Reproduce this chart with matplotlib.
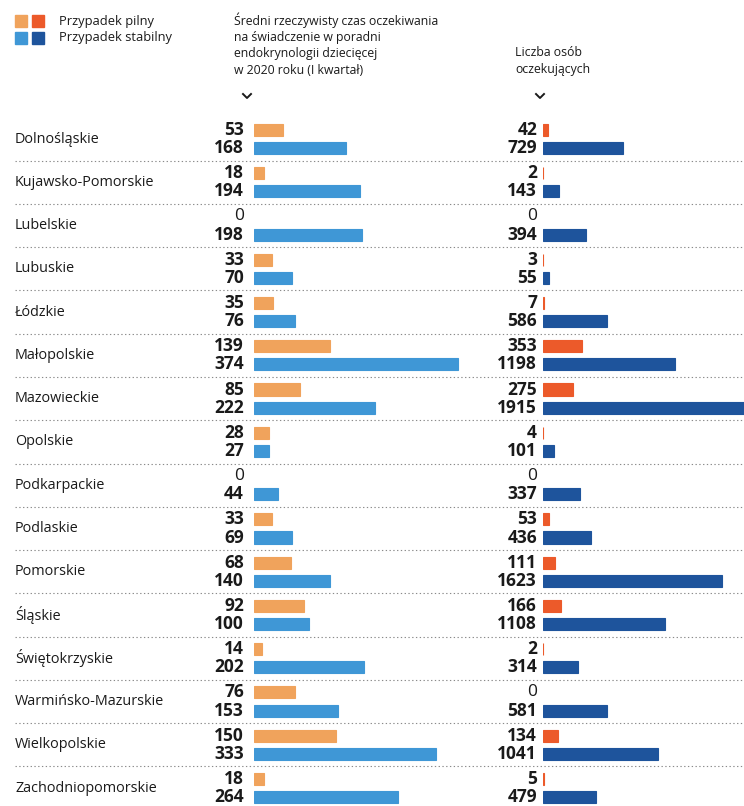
import numpy as np
import matplotlib
matplotlib.use("Agg")
import matplotlib.pyplot as plt

regions = ["Dolnośląskie", "Kujawsko-Pomorskie", "Lubelskie", "Lubuskie", "Łódzkie",
           "Małopolskie", "Mazowieckie", "Opolskie", "Podkarpackie", "Podlaskie",
           "Pomorskie", "Śląskie", "Świętokrzyskie", "Warmińsko-Mazurskie",
           "Wielkopolskie", "Zachodniopomorskie"]
wait_pilny = [53, 18, 0, 33, 35, 139, 85, 28, 0, 33, 68, 92, 14, 76, 150, 18]
wait_stabilny = [168, 194, 198, 70, 76, 374, 222, 27, 44, 69, 140, 100, 202, 153, 333, 264]
people_pilny = [42, 2, 0, 3, 7, 353, 275, 4, 0, 53, 111, 166, 2, 0, 134, 5]
people_stabilny = [729, 143, 394, 55, 586, 1198, 1915, 101, 337, 436, 1623, 1108, 314, 581, 1041, 479]

header_wait = "Średni rzeczywisty czas oczekiwania\nna świadczenie w poradni\nendokrynologii dziecięcej\nw 2020 roku (I kwartał)"
header_people = "Liczba osób\noczekujących"
legend_labels = ["Przypadek pilny", "Przypadek stabilny"]

c_wait = ["#F0A35C", "#3F97D6"]
c_people = ["#EC5A2A", "#1E549C"]

plt.rcParams['font.family'] = ['Open Sans', 'DejaVu Sans']

W, H = 744, 806
fig = plt.figure(figsize=(W / 100, H / 100), dpi=100)

# layout in pixels
row0, pitch = 139, 43.27
y_top = -row0 / pitch
y_bot = (H - row0) / pitch
off, bh = 0.21, 0.28

def fx(px):
    return px / W

def fy(py):
    return 1 - py / H

bg = fig.add_axes([0, 0, 1, 1])
bg.set_xlim(0, W)
bg.set_ylim(y_bot, y_top)
bg.axis("off")

ax_w = fig.add_axes([fx(254), 0, fx(236), 1])
ax_w.set_xlim(0, 236 / 0.546)
ax_p = fig.add_axes([fx(543), 0, fx(201), 1])
ax_p.set_xlim(0, 201 / 0.11)
for ax in (ax_w, ax_p):
    ax.set_ylim(y_bot, y_top)
    ax.axis("off")
    ax.patch.set_alpha(0)

y = np.arange(len(regions))

def bars(ax, vals, ypos, color):
    ec = [color if v > 0 else "none" for v in vals]
    ax.barh(ypos, vals, height=bh, color=color, edgecolor=ec, linewidth=0.8)

bars(ax_w, wait_pilny, y - off, c_wait[0])
bars(ax_w, wait_stabilny, y + off, c_wait[1])
bars(ax_p, people_pilny, y - off, c_people[0])
bars(ax_p, people_stabilny, y + off, c_people[1])

def num(x, yy, v):
    bg.text(x, yy, str(v), ha="right", va="center", fontsize=12.5,
            fontweight="bold" if v > 0 else "normal", color="#1a1a1a")

for i, name in enumerate(regions):
    bg.text(15, i, name, ha="left", va="center", fontsize=10.4, color="#1a1a1a")
    num(244, i - off, wait_pilny[i])
    num(537, i - off, people_pilny[i])
    num(244, i + off, wait_stabilny[i])
    num(537, i + off, people_stabilny[i])
    if i < len(regions) - 1:
        bg.plot([15, W], [i + 0.5, i + 0.5], color="#8a8a8a", lw=0.8,
                dashes=(1.2, 2.2))

# legend
for j, lab in enumerate(legend_labels):
    yy = 21 + j * 17
    for k, col in enumerate([c_wait[j], c_people[j]]):
        fig.patches.append(plt.Rectangle((fx(15 + k * 17), fy(yy + 6)), fx(12), 12 / H,
                                         transform=fig.transFigure, color=col))
    fig.text(fx(59), fy(yy), lab, ha="left", va="center", fontsize=9.3, color="#1a1a1a")

fig.text(fx(234), fy(12), header_wait, ha="left", va="top", fontsize=8.8,
         color="#1a1a1a", linespacing=1.35)
fig.text(fx(515), fy(46), header_people, ha="left", va="top", fontsize=8.8,
         color="#1a1a1a", linespacing=1.35)

# chevrons
for cx in (247, 540):
    fig.add_artist(plt.Line2D([fx(cx - 4), fx(cx), fx(cx + 4)], [fy(94), fy(98), fy(94)],
                              transform=fig.transFigure, color="#1a1a1a", lw=1.4))

fig.savefig("out.png", dpi=100)
